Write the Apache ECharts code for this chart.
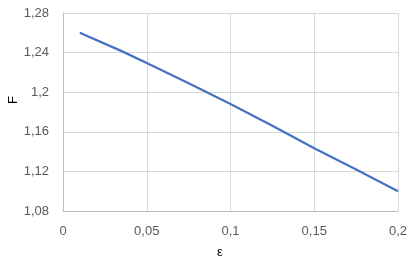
<!DOCTYPE html>
<html>
<head>
<meta charset="utf-8">
<script src="https://cdn.jsdelivr.net/npm/echarts@6/dist/echarts.min.js"></script>
<style>html,body{margin:0;padding:0;background:#fff;}#c{width:411px;height:265px;}</style>
</head>
<body>
<div id="c"></div>
<script>
const epsilon = [0.01, 0.035, 0.05, 0.075, 0.1, 0.125, 0.15, 0.175, 0.2];
const F = [1.26, 1.2415, 1.2295, 1.209, 1.188, 1.166, 1.1435, 1.1218, 1.10];
const xTicks = [0, 0.05, 0.1, 0.15, 0.2];
const yTicks = [1.08, 1.12, 1.16, 1.2, 1.24, 1.28];

function fmt(v) { return String(parseFloat(v.toFixed(2))).replace('.', ','); }

const chart = echarts.init(document.getElementById('c'), null, {renderer: 'canvas'});
const font = 'Liberation Sans, Arial, sans-serif';
chart.setOption({
  animation: false,
  backgroundColor: '#fff',
  grid: {left: 63, right: 13, top: 13, bottom: 54, containLabel: false, outerBoundsMode: 'none'},
  xAxis: {
    type: 'value',
    min: xTicks[0], max: xTicks[xTicks.length - 1], interval: 0.05,
    name: 'ε', nameLocation: 'middle', nameGap: 35, nameMoveOverlap: false,
    nameTextStyle: {color: '#000', fontSize: 13, fontFamily: font, padding: [0, 21, 0, 0]},
    axisLine: {show: true, lineStyle: {color: '#bfbfbf', width: 1}},
    axisTick: {show: false},
    axisLabel: {color: '#595959', fontSize: 13, fontFamily: font, margin: 14, formatter: fmt},
    splitLine: {show: true, lineStyle: {color: '#d9d9d9', width: 1}}
  },
  yAxis: {
    type: 'value',
    min: yTicks[0], max: yTicks[yTicks.length - 1], interval: 0.04,
    name: 'F', nameLocation: 'middle', nameGap: 43, nameRotate: 90, nameMoveOverlap: false,
    nameTextStyle: {color: '#000', fontSize: 13, fontFamily: font, padding: [0, 0, 0, 24]},
    axisLine: {show: true, lineStyle: {color: '#bfbfbf', width: 1}},
    axisTick: {show: false},
    axisLabel: {color: '#595959', fontSize: 13, fontFamily: font, margin: 14, formatter: fmt},
    splitLine: {show: true, lineStyle: {color: '#d9d9d9', width: 1}}
  },
  series: [{
    type: 'line',
    data: epsilon.map((e, i) => [e, F[i]]),
    showSymbol: false,
    smooth: false,
    lineStyle: {color: '#4472c4', width: 2.25}
  }]
});
</script>
</body>
</html>
